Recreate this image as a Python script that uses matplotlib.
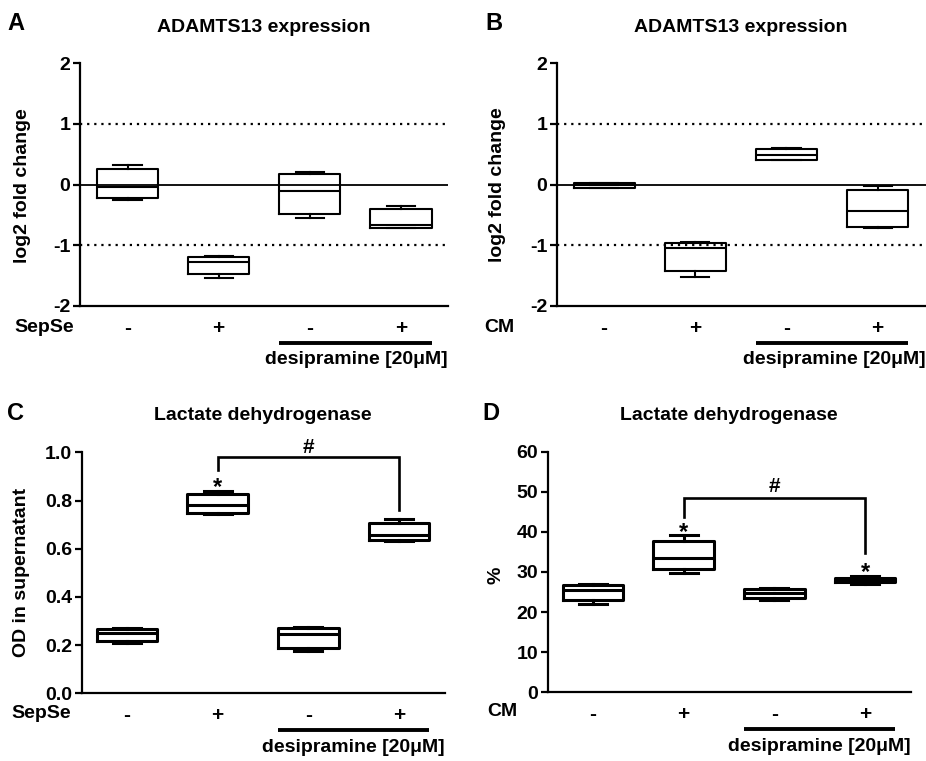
import matplotlib
matplotlib.use('Agg')
import matplotlib.pyplot as plt

plt.rcParams['font.family'] = ['Liberation Sans', 'DejaVu Sans']
plt.rcParams['font.weight'] = 'bold'
plt.rcParams['font.size'] = 14
plt.rcParams['axes.unicode_minus'] = False

W, H = 926, 761

# ---------------- data ----------------
positions = [1, 2, 3, 4]
signs = ['-', '+', '-', '+']

# Panel A: ADAMTS13 expression, SepSe
a_whislo = [-0.25, -1.54, -0.55, -0.72]
a_q1 = [-0.22, -1.48, -0.48, -0.71]
a_med = [-0.04, -1.27, -0.11, -0.66]
a_q3 = [0.25, -1.20, 0.18, -0.41]
a_whishi = [0.32, -1.18, 0.21, -0.35]

# Panel B: ADAMTS13 expression, CM
b_whislo = [-0.06, -1.52, 0.40, -0.72]
b_q1 = [-0.05, -1.42, 0.41, -0.70]
b_med = [-0.01, -1.04, 0.49, -0.44]
b_q3 = [0.02, -0.96, 0.59, -0.09]
b_whishi = [0.03, -0.95, 0.60, -0.03]

# Panel C: LDH, OD in supernatant, SepSe
c_whislo = [0.207, 0.743, 0.176, 0.630]
c_q1 = [0.217, 0.750, 0.190, 0.636]
c_med = [0.249, 0.780, 0.246, 0.656]
c_q3 = [0.267, 0.826, 0.272, 0.705]
c_whishi = [0.270, 0.840, 0.274, 0.722]

# Panel D: LDH, %, CM
d_whislo = [21.9, 29.8, 23.0, 27.0]
d_q1 = [22.9, 30.7, 23.4, 27.4]
d_med = [25.5, 33.6, 24.7, 28.0]
d_q3 = [26.8, 37.8, 25.8, 28.6]
d_whishi = [27.0, 39.2, 26.1, 29.1]

ab_yticks = [-2, -1, 0, 1, 2]
ab_yticklabels = ['-2', '-1', '0', '1', '2']
c_yticks = [0.0, 0.2, 0.4, 0.6, 0.8, 1.0]
c_yticklabels = ['0.0', '0.2', '0.4', '0.6', '0.8', '1.0']
d_yticks = [0, 10, 20, 30, 40, 50, 60]
d_yticklabels = ['0', '10', '20', '30', '40', '50', '60']

# significance brackets: (left leg bottom, top, right leg bottom)
c_bracket = [0.927, 0.982, 0.760]
d_bracket = [43.8, 48.4, 34.65]
c_stars = [(2, 0.878)]
d_stars = [(2, 41.3), (4, 31.3)]
c_hash = (3, 1.02)
d_hash = (3, 51.3)

fig = plt.figure(figsize=(W / 100, H / 100), dpi=100)


def fx(px):
    return px / W


def fy(py):
    return 1 - py / H


def make_axes(l, r, t, b):
    return fig.add_axes([fx(l), fy(b), fx(r - l), (b - t) / H])


def stats(whislo, q1, med, q3, whishi):
    return [dict(whislo=w0, q1=a, med=m, q3=c, whishi=w1)
            for w0, a, m, c, w1 in zip(whislo, q1, med, q3, whishi)]


def panel(l, r, t, b, ylim, yticks, yticklabels, st, lw, xlim):
    ax = make_axes(l, r, t, b)
    ax.set_xlim(*xlim)
    ax.set_ylim(*ylim)
    for s in ['top', 'right']:
        ax.spines[s].set_visible(False)
    for s in ['left', 'bottom']:
        ax.spines[s].set_linewidth(1.6)
    ax.set_xticks([])
    ax.set_yticks(yticks)
    ax.set_yticklabels(yticklabels)
    ax.tick_params(axis='y', length=5, width=1.6, pad=2, labelsize=14)
    lp = dict(color='black', linewidth=lw)
    ax.bxp(st, positions=positions, widths=0.67, showfliers=False,
           boxprops=lp, whiskerprops=lp, capprops=lp, medianprops=lp,
           capwidths=0.31, manage_ticks=False, zorder=3)
    ax.patch.set_alpha(0)
    return ax


def bottom_labels(ax, label, label_x, b):
    for p, s in zip(positions, signs):
        ax.annotate(s, xy=(p, 0), xycoords=('data', 'axes fraction'),
                    xytext=(0, -22), textcoords='offset pixels',
                    ha='center', va='center', fontsize=15, fontweight='bold')
    fig.text(fx(label_x), fy(b + 22), label, ha='left', va='center',
             fontsize=14, fontweight='bold')
    trans = ax.get_xaxis_transform()
    axh = ax.get_position().height * H
    ax.plot([2.665, 4.335], [-36.5 / axh] * 2, transform=trans,
            color='black', lw=2.8, clip_on=False, solid_capstyle='butt')
    ax.text(1.0, -54 / axh, 'desipramine [20μM]', transform=ax.transAxes,
            ha='right', va='center', fontsize=14, fontweight='bold')


def refs(ax):
    ax.axhline(0, color='black', lw=1.3, zorder=2)
    for v in (1, -1):
        ax.axhline(v, color='black', lw=1.6, linestyle=(0, (1, 2.2)), zorder=2)


# Panel A
axA = panel(80, 448, 63, 306, (-2, 2), ab_yticks, ab_yticklabels,
            stats(a_whislo, a_q1, a_med, a_q3, a_whishi), 1.5, (0.478, 4.516))
refs(axA)
bottom_labels(axA, 'SepSe', 14, 306)

# Panel B
axB = panel(557, 926, 63, 306, (-2, 2), ab_yticks, ab_yticklabels,
            stats(b_whislo, b_q1, b_med, b_q3, b_whishi), 1.5, (0.484, 4.53))
refs(axB)
bottom_labels(axB, 'CM', 484, 306)

# Panel C
axC = panel(81.7, 445, 452.3, 693.3, (0, 1.0), c_yticks, c_yticklabels,
            stats(c_whislo, c_q1, c_med, c_q3, c_whishi), 2.2, (0.50, 4.507))
bottom_labels(axC, 'SepSe', 11, 691)

# Panel D
axD = panel(548, 911, 451.7, 692.3, (0, 60), d_yticks, d_yticklabels,
            stats(d_whislo, d_q1, d_med, d_q3, d_whishi), 2.2, (0.504, 4.507))
bottom_labels(axD, 'CM', 487, 690)


def bracket(ax, br, stars, hsh):
    ax.plot([2, 2, 4, 4], [br[0], br[1], br[1], br[2]], color='black',
            lw=1.9, clip_on=False, solid_joinstyle='miter')
    for x, y in stars:
        ax.annotate('*', xy=(x, y), xytext=(0, -6), textcoords='offset pixels',
                    ha='center', va='center', fontsize=17, fontweight='bold',
                    annotation_clip=False)
    ax.text(hsh[0], hsh[1], '#', ha='center', va='center', fontsize=15,
            fontweight='bold', clip_on=False)


bracket(axC, c_bracket, c_stars, c_hash)
bracket(axD, d_bracket, d_stars, d_hash)

# titles, panel letters, y labels
for (cx, cy, txt) in [(264, 27, 'ADAMTS13 expression'),
                      (741, 27, 'ADAMTS13 expression'),
                      (263, 416, 'Lactate dehydrogenase'),
                      (729, 415, 'Lactate dehydrogenase')]:
    fig.text(fx(cx), fy(cy), txt, ha='center', va='center', fontsize=14,
             fontweight='bold')

for (lx, ly, txt) in [(7, 24, 'A'), (485, 24, 'B'), (7, 413, 'C'), (482, 413, 'D')]:
    fig.text(fx(lx), fy(ly), txt, ha='left', va='center', fontsize=17,
             fontweight='bold')

for (lx, ly, txt) in [(23, 186, 'log2 fold change'),
                      (498, 185, 'log2 fold change'),
                      (22, 572, 'OD in supernatant'),
                      (496, 575, '%')]:
    fig.text(fx(lx), fy(ly), txt, ha='center', va='center', fontsize=14,
             fontweight='bold', rotation=90)

fig.savefig('out.png', dpi=100)
